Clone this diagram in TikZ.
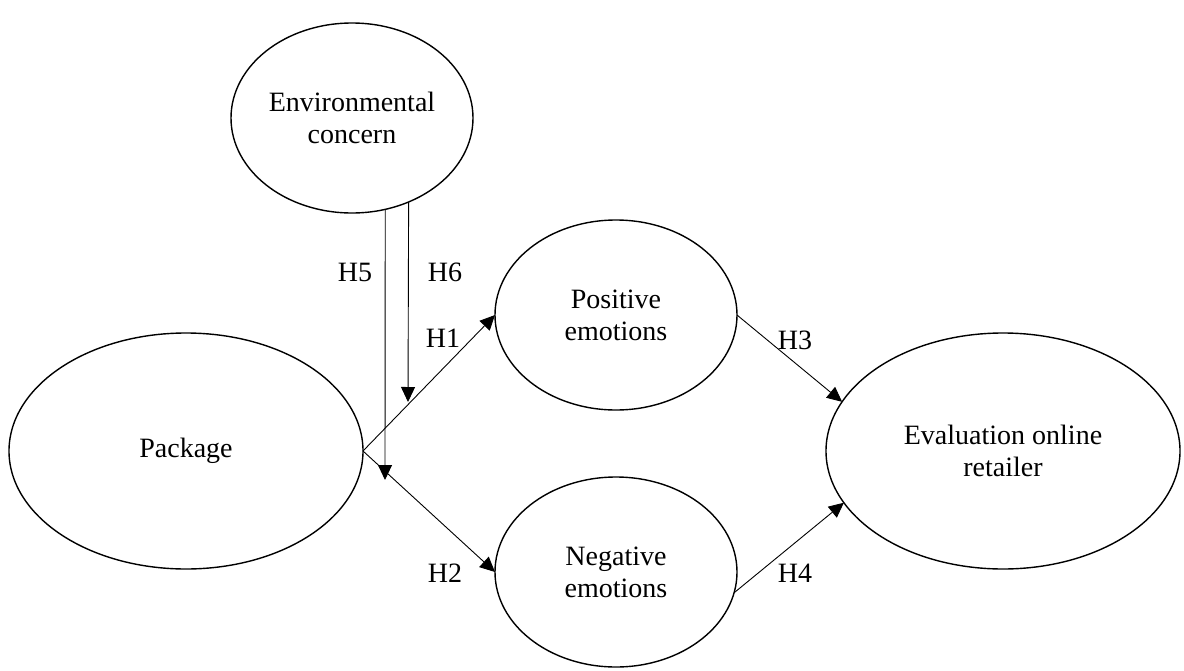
\documentclass[tikz,border=0pt]{standalone}
\usepackage{fontspec}
\setmainfont{Liberation Serif}
\usetikzlibrary{shapes.geometric,arrows.meta}
\begin{document}
\begin{tikzpicture}[x=1pt,y=-1pt,
  construct/.style={draw, ellipse, line width=1.4pt, inner sep=0pt, outer sep=0pt, align=center,
    font=\fontsize{28}{32}\selectfont},
  big/.style={construct, minimum width=354pt, minimum height=236pt},
  small/.style={construct, minimum width=242pt, minimum height=190pt},
  link/.style={line width=0.9pt, -{Triangle[length=15pt,width=14pt]}},
  hyp/.style={font=\fontsize{28}{32}\selectfont, inner sep=0pt}]
\useasboundingbox (0,0) rectangle (1184,670);
\node[small] (ec) at (352,118) {Environmental\\concern};
\node[big] (pk) at (186,451) {Package};
\node[small] (pe) at (616,315) {Positive\\emotions};
\node[small] (ne) at (616,572) {Negative\\emotions};
\node[big] (ev) at (1003,451) {Evaluation online\\retailer};
\coordinate (h5end) at (385,480);
\coordinate (h6end) at (408,402);
\draw[link] (ec.-70.2) -- (h5end);
\draw[link] (ec.-56.4) -- (h6end);
\draw[link] (pk.east) -- (pe.west);
\draw[link] (pk.east) -- (ne.west);
\draw[link] (pe.east) -- (ev.163);
\draw[link] (ne.-10.7) -- (ev.198.2);
\node[hyp] (l5) at (355,272) {H5};
\node[hyp] (l6) at (445,272) {H6};
\node[hyp] (l1) at (443,338) {H1};
\node[hyp] (l2) at (445,573) {H2};
\node[hyp] (l3) at (795,340) {H3};
\node[hyp] (l4) at (795,573) {H4};
\end{tikzpicture}
\end{document}
